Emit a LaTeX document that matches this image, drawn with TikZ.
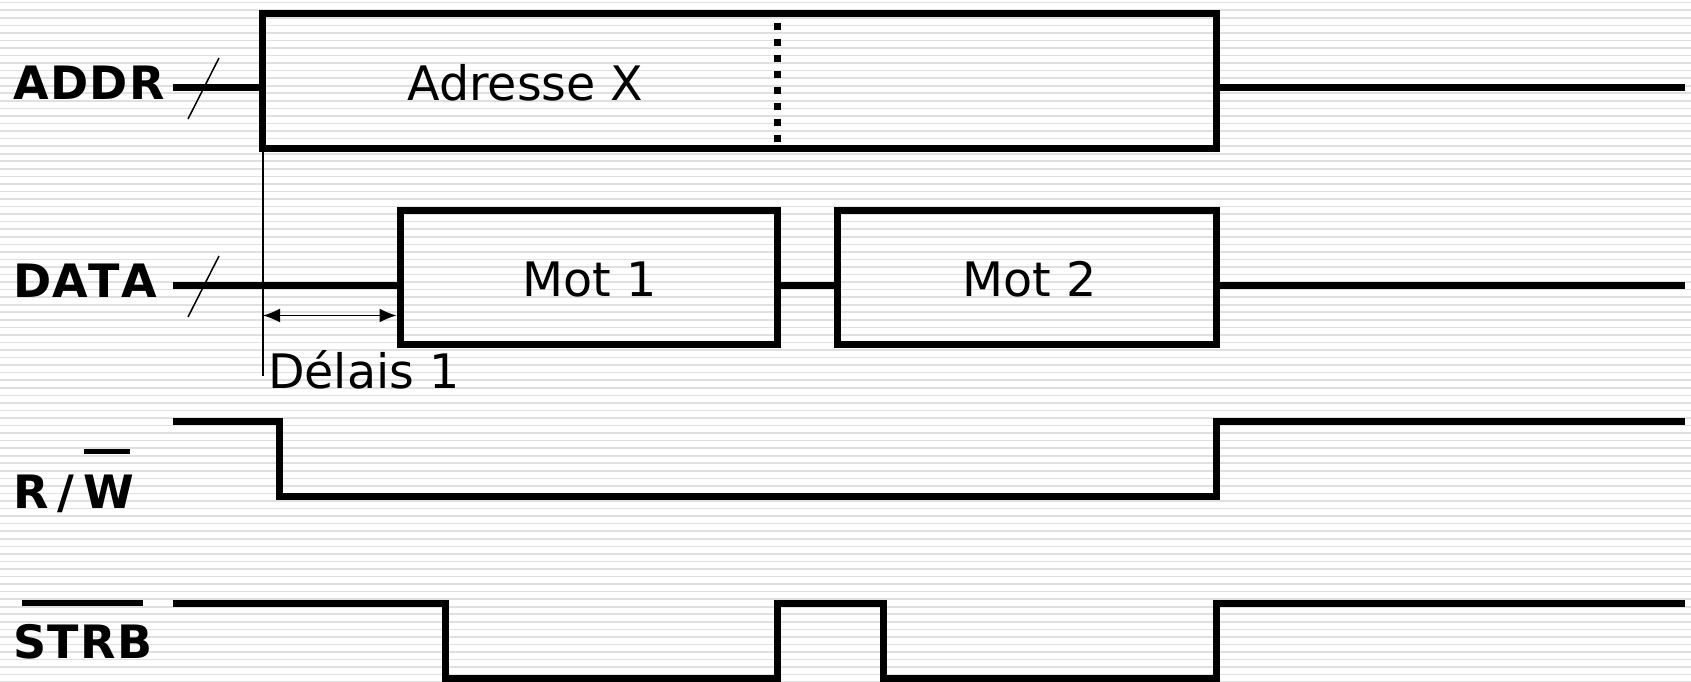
\documentclass[tikz,border=0pt]{standalone}
\usepackage{fontspec}
\setmainfont{DejaVu Sans}
\usetikzlibrary{arrows.meta}
\usetikzlibrary{calc}

\tikzset{
  sig/.style={line width=7pt},
  busbox/.style={draw, line width=7pt, inner sep=0pt, outer sep=0pt},
  fine/.style={line width=1.5pt},
  stripe/.style={line width=1.6pt, black!12},
  lbl/.style={inner sep=0pt, anchor=base west, font=\bfseries\fontsize{46}{50}\selectfont},
  txt/.style={inner sep=0pt, anchor=base, font=\fontsize{47.5}{52}\selectfont},
  delaytip/.tip={Latex[length=17pt,width=14pt]},
}

\begin{document}
\begin{tikzpicture}[x=1pt,y=-1pt]
  \useasboundingbox (0,0) rectangle (1691,682);
  \fill[white] (0,0) rectangle (1691,682);
  \foreach \i in {0,...,90}
    \draw[stripe] (0,2.7+7.55*\i) -- (1691,2.7+7.55*\i);

  % signal names
  \node[lbl] (addrlbl) at (13,100) {A\kern1.5pt D\kern1.5pt D\kern1.5pt R};
  \node[lbl] (datalbl) at (13,297) {D\kern1pt A\kern1pt T\kern1pt A};
  \node[lbl] (rwlbl) at (13,508) {R\kern9pt/\kern9pt W};
  \node[lbl] (strblbl) at (13,658) {S\kern1.5pt T\kern1.5pt R\kern1.5pt B};
  \draw[line width=5pt] (84,451) -- (130,451);
  \draw[line width=6pt] (22,603) -- (143,603);

  % bus boxes
  \node[busbox, minimum width=954.5pt, minimum height=134.5pt] (addr) at (739.25,80.75) {};
  \node[busbox, minimum width=377.5pt, minimum height=134pt] (mot1) at (588.75,277) {};
  \node[busbox, minimum width=379.5pt, minimum height=134pt] (mot2) at (1026.75,277) {};
  \node[txt] (adrtxt) at ($(addr)+(-213.75,19.75)$) {Adresse X};
  \node[txt] (mot1txt) at ($(mot1)+(1,19)$) {Mot 1};
  \node[txt] (mot2txt) at ($(mot2)+(3,19)$) {Mot 2};

  \coordinate (split) at (777.5,23);
  \draw[line width=7pt, dash pattern=on 7pt off 9pt] (split) -- ++(0,121);

  % ADDR
  \coordinate (addrin) at (172.5,87.5);
  \coordinate (addrout) at (1685,87.5);
  \draw[sig] (addrin) -- (addrin -| addr.west);
  \draw[sig] (addrin -| addr.east) -- (addrout);
  \draw[fine] ($(addrin)+(15.5,31.5)$) -- ++(31,-61);

  % DATA
  \coordinate (datain) at (172.5,285.5);
  \coordinate (dataout) at (1685,285.5);
  \draw[sig] (datain) -- (datain -| mot1.west);
  \draw[sig] (datain -| mot1.east) -- (datain -| mot2.west);
  \draw[sig] (datain -| mot2.east) -- (dataout);
  \draw[fine] ($(datain)+(15.5,31.5)$) -- ++(31,-61);

  % delay
  \draw[fine] ($(addr.south west)+(1,0)$) -- ++(0,228);
  \coordinate (dlstart) at (263,315.5);
  \draw[fine, delaytip-delaytip, shorten >=3.5pt] (dlstart) -- (dlstart -| mot1.west);
  \node[txt, anchor=base west] (delaytxt) at (268,388) {Délais 1};

  % R/W
  \draw[sig] (172.5,421.5) -- (279.5,421.5) -- (279.5,496.5)
    -- (1216.5,496.5) -- (1216.5,421.5) -- (1685,421.5);

  % STRB
  \draw[sig] (172.5,603) -- (445,603) -- (445,678) -- (777.5,678)
    -- (777.5,603) -- (883,603) -- (883,678) -- (1216.5,678)
    -- (1216.5,603) -- (1685,603);
\end{tikzpicture}
\end{document}
